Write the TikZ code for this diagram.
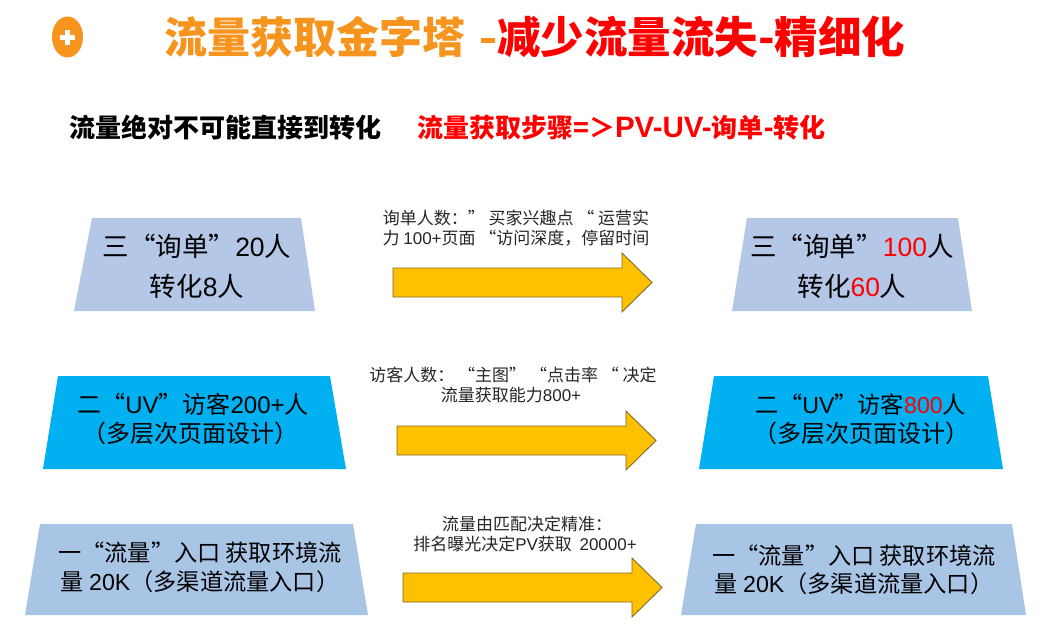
\documentclass[tikz,border=0pt]{standalone}
\usepackage{fontspec}
\setmainfont{Noto Sans CJK SC}
\newfontfamily\latn{Liberation Sans}
\newcommand{\la}[1]{{\latn #1}}
\definecolor{titleorange}{HTML}{F7941D}
\definecolor{lav}{HTML}{B4C7E7}
\definecolor{cyanbox}{HTML}{00B0F0}
\definecolor{steel}{HTML}{A9C5E6}
\definecolor{arrowfill}{HTML}{FFC000}
\definecolor{arrowline}{HTML}{7F6A2A}
\newcommand{\fs}[1]{\fontsize{#1}{#1}\selectfont}
\tikzset{
  boxtext/.style={inner sep=0pt,align=center,text=black,font=\fs{26.5},anchor=base},
  boxsmall/.style={boxtext,font=\fs{24}},
  boxsmaller/.style={boxtext,font=\fs{23.2}},
  arrowshape/.style={fill=arrowfill,draw=arrowline,line width=0.9pt,line join=miter},
  note/.style={inner sep=0pt,align=center,text=black!85,font=\fs{17},anchor=base},
  titletext/.style={anchor=base west,inner sep=0pt,font=\fs{43}\bfseries},
  subtext/.style={anchor=base west,inner sep=0pt,font=\fs{26}\bfseries},
}
\newcommand{\blockarrow}[2]{%
  \draw[arrowshape] (#1,#2+15) -- (#1+229,#2+15) -- (#1+229,#2) -- (#1+259,#2+29.5)
    -- (#1+229,#2+59) -- (#1+229,#2+44) -- (#1,#2+44) -- cycle;}
\begin{document}
\begin{tikzpicture}[x=1pt,y=-1pt]
\useasboundingbox (0,0) rectangle (1042,633);
\fill[white] (0,0) rectangle (1042,633);
% badge
\fill[titleorange] (67.5,37) ellipse [x radius=15.5, y radius=20.5];
\fill[white] (65,29.5) rectangle (70,44.5);
\fill[white] (60,34.5) rectangle (75,39.5);
% title
\node[titletext,text=titleorange] (t1) at (164,53) {流量获取金字塔};
\fill[titleorange] (481,38) rectangle (495,43);
\node[titletext,font=\fs{43.5}\bfseries,text=red] (t3) at (497,53) {减少流量流失-精细化};
% subtitle
\node[subtext,text=black] (s1) at (69,137) {流量绝对不可能直接到转化};
\node[subtext,text=red] (s2) at (417,137) {流量获取步骤=＞{\fs{29.5}\latn\bfseries PV-UV-}询单{\fs{29.5}\latn\bfseries -}转化};
% left trapezoids
\fill[lav] (92,218) -- (301,218) -- (315,311) -- (74,311) -- cycle;
\fill[cyanbox] (58,376) -- (330,376) -- (346,469) -- (43,469) -- cycle;
\fill[steel] (40,524) -- (353,524) -- (368,615) -- (25,615) -- cycle;
% right trapezoids
\fill[lav] (747,218) -- (958,218) -- (972,311) -- (732,311) -- cycle;
\fill[cyanbox] (714,376) -- (988,376) -- (1003,469) -- (699,469) -- cycle;
\fill[steel] (696,524) -- (1012,524) -- (1026,615) -- (681,615) -- cycle;
% left texts
\node[boxtext] (l1a) at (197,256) {三“询单”\la{20}人};
\node[boxtext] (l1b) at (197,296) {转化\la{8}人};
\node[boxsmall] (l2a) at (193,413) {二“\la{UV}”访客\la{200+}人};
\node[boxsmall] (l2b) at (190,442) {（多层次页面设计）};
\node[boxsmaller] (l3a) at (200,561) {一“流量”入口 获取环境流};
\node[boxsmaller] (l3b) at (200,590) {量 \la{20K}（多渠道流量入口）};
% right texts
\node[boxtext] (r1a) at (852,256) {三“询单”\textcolor{red}{\la{100}}人};
\node[boxtext] (r1b) at (852,296) {转化\textcolor{red}{\la{60}}人};
\node[boxsmaller] (r2a) at (861,413) {二“\la{UV}”访客\textcolor{red}{\la{800}}人};
\node[boxsmall] (r2b) at (861,442) {（多层次页面设计）};
\node[boxsmaller] (r3a) at (854,564) {一“流量”入口 获取环境流};
\node[boxsmaller] (r3b) at (854,592) {量 \la{20K}（多渠道流量入口）};
% arrows
\blockarrow{393}{253}
\blockarrow{397}{411}
\blockarrow{403}{558}
% notes
\node[note] (n1a) at (516,224) {询单人数：” 买家兴趣点 “ 运营实};
\node[note] (n1b) at (516,244) {力 \la{100+}页面 “访问深度，停留时间};
\node[note] (n2a) at (513,381) {访客人数： “主图” “点击率 “ 决定};
\node[note] (n2b) at (511,401) {流量获取能力\la{800+}};
\node[note] (n3a) at (527,530) {流量由匹配决定精准：};
\node[note] (n3b) at (525,550) {排名曝光决定\la{PV}获取\ \ \la{20000+}};
\end{tikzpicture}
\end{document}
